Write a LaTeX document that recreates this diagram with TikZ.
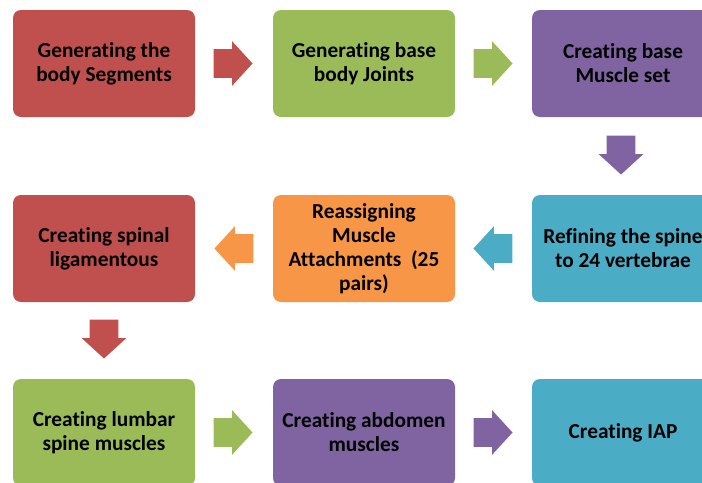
\documentclass[tikz,border=0pt]{standalone}
\usepackage{fontspec}
\setmainfont{Carlito}[Ligatures=NoCommon]
\usetikzlibrary{shapes.arrows,calc}
\definecolor{myred}{HTML}{C0504D}
\definecolor{mygreen}{HTML}{9BBB59}
\definecolor{mypurple}{HTML}{8064A2}
\definecolor{myaqua}{HTML}{4BACC6}
\definecolor{myorange}{HTML}{F79646}

\begin{document}
\begin{tikzpicture}[x=0.75pt,y=-0.75pt,
    box/.style={rounded corners=6pt, minimum width=136.5pt, minimum height=80.25pt,
      align=center, inner sep=2pt, font=\bfseries\fontsize{16}{17.9}\selectfont},
    flow/.style={single arrow, anchor=tail, minimum height=29.25pt, minimum width=33pt,
      single arrow head extend=6pt, single arrow tip angle=95,
      inner xsep=0pt, inner ysep=10.5pt},
    vflow/.style={flow, shape border rotate=270, inner xsep=10.5pt, inner ysep=0pt}]
    % Ramka obrazka
    \useasboundingbox (0,0) rectangle (702,482);
    \clip (0,0) rectangle (702,482);

    % Pierwszy wiersz
    \node[box,fill=myred] (seg) at (104,63.5) {Generating the\\body Segments};
    \node[box,fill=mygreen] (joints) at (364,63.5) {Generating base\\body Joints};
    \node[box,fill=mypurple] (muscles) at (623,63.5) {Creating base\\Muscle set};

    % Drugi wiersz
    \node[box,fill=myred] (ligament) at (104,248.5) {Creating spinal\\ligamentous};
    \node[box,fill=myorange] (attach) at (364,248.5)
      {Reassigning\\Muscle\\Attachments\ \ (25\\pairs)};
    \node[box,fill=myaqua] (spine) at (623,248.5) {Refining the spine\\to 24 vertebrae};

    % Trzeci wiersz
    \node[box,fill=mygreen] (lumbar) at (104,432.5) {Creating lumbar\\spine muscles};
    \node[box,fill=mypurple] (abdomen) at (364,432.5) {Creating abdomen\\muscles};
    \node[box,fill=myaqua] (iap) at (623,432.5) {Creating IAP};

    % Strzałki
    \node[flow,fill=myred] (a1) at ($(seg.east)+(18,0)$) {};
    \node[flow,fill=mygreen] (a2) at ($(joints.east)+(18,0)$) {};
    \node[vflow,fill=mypurple] (a3) at ($(muscles.south)+(-2,18)$) {};
    \node[flow,fill=myaqua,shape border rotate=180] (a4) at ($(spine.west)+(-19,0)$) {};
    \node[flow,fill=myorange,shape border rotate=180] (a5)
      at ($(attach.west)+(-19,0)$) {};
    \node[vflow,fill=myred] (a6) at ($(ligament.south)+(0,17)$) {};
    \node[flow,fill=mygreen] (a7) at ($(lumbar.east)+(18,0)$) {};
    \node[flow,fill=mypurple] (a8) at ($(abdomen.east)+(18,0)$) {};
\end{tikzpicture}
\end{document}
